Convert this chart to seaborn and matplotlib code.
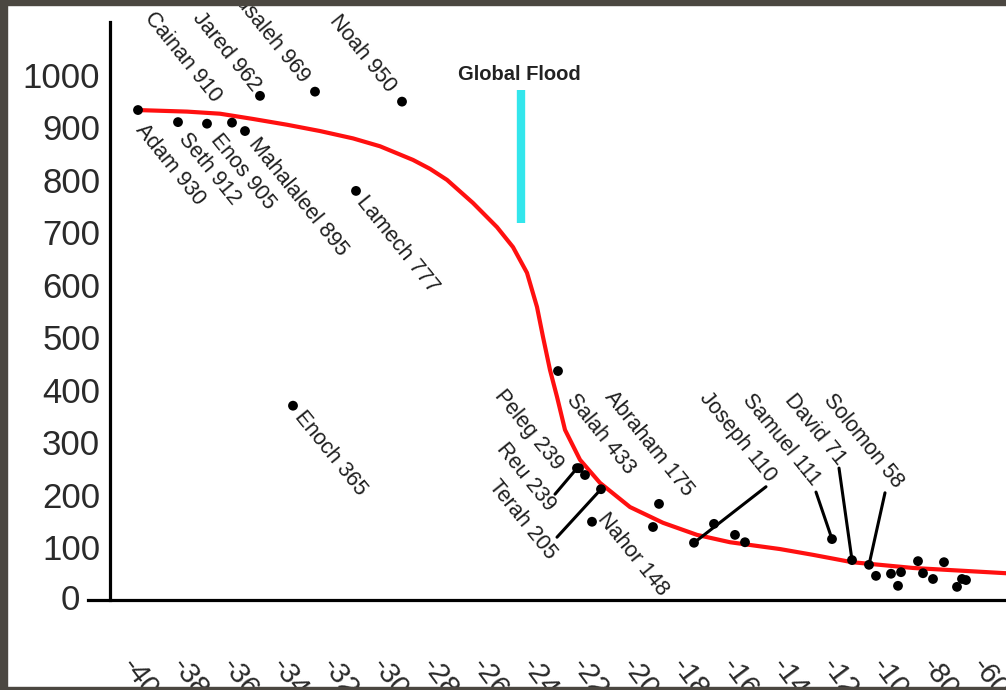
import matplotlib
matplotlib.use("Agg")  # headless rendering
import matplotlib.pyplot as plt
import seaborn as sns
import pandas as pd
from matplotlib.patches import Rectangle

sns.set_theme(style="white")
plt.rcParams["font.family"] = ["Liberation Sans", "DejaVu Sans"]

# birth year (negative = BC) and lifespan of every dot on the chart
birth_year = [-4000, -3840, -3724, -3624, -3572, -3512, -3380, -3292, -3128, -2944,
              -2320, -2244, -2236, -2212, -2148, -2184, -1916, -1940, -1776, -1696,
              -1612, -1572, -1224, -1144, -1076, -1048, -988, -948, -960, -880,
              -860, -820, -776, -704, -688, -724]
lifespan = [933, 910, 907, 909, 893, 960, 370, 968, 779, 949,
            436, 251, 251, 238, 211, 149, 183, 139, 109, 145,
            124, 110, 116, 76, 67, 46, 50, 53, 27, 74,
            51, 40, 72, 40, 38, 25]

# the red trend curve
curve_year = [-4004, -3804, -3672, -3540, -3404, -3272, -3140, -3032, -2900, -2832,
              -2764, -2660, -2564, -2500, -2444, -2404, -2380, -2352, -2324, -2292,
              -2232, -2152, -2032, -1900, -1764, -1632, -1432, -1300, -1144, -900, -528]
curve_age = [933, 930, 926, 916, 905, 893, 879, 864, 838, 821,
             800, 756, 710, 672, 623, 558, 501, 438, 387, 324,
             267, 223, 177, 147, 124, 110, 97, 86, 72, 61, 51]

flood_year = -2468
flood_low, flood_high = 718, 971

x_ticks = [-4000, -3800, -3600, -3400, -3200, -3000, -2800, -2600, -2400, -2200,
           -2000, -1800, -1600, -1400, -1200, -1000, -800, -600]
x_tick_labels = ["-4000", "-3800", "-3600", "-3400", "-3200", "-3000", "-2800", "-2600",
                 "-2400", "-2200", "-2000", "-1800", "-1600", "-1400", "-1200", "-1000",
                 "-800", "-600"]
y_ticks = [0, 100, 200, 300, 400, 500, 600, 700, 800, 900, 1000]

# names written next to the dots
names = ["Adam 930", "Seth 912", "Enos 905", "Cainan 910", "Mahalaleel 895", "Jared 962",
         "Enoch 365", "Methusaleh 969", "Lamech 777", "Noah 950", "Salah 433",
         "Peleg 239", "Reu 239", "Terah 205", "Nahor 148", "Abraham 175",
         "Joseph 110", "Samuel 111", "David 71", "Solomon 58"]
name_dot = [0, 1, 2, 3, 4, 5, 6, 7, 8, 9, 10, 11, 12, 14, 15, 16, 18, 22, 23, 24]
# label centre offsets from the dot, in pixels
name_dx = [32, 31, 36, -49, 53, -34, 37, -58, 41, -39, 43, -48, -53, -79, 41, -10, 44, -51, -37, -6]
name_dy = [-55, -47, -48, 65, -66, 44, -48, 71, -54, 48, -63, 38, -9, -31, -33, 60, 106, 99, 131, 124]

# leader lines: dot index and the free end offset in pixels
leader_dot = [11, 14, 18, 22, 23, 24]
leader_dx = [-22, -44, 72, -16, -13, 16]
leader_dy = [-26, -48, 56, 47, 92, 72]

dots = pd.DataFrame({"year": birth_year, "age": lifespan})
curve = pd.DataFrame({"year": curve_year, "age": curve_age})

fig = plt.figure(figsize=(10.06, 6.9), dpi=100)
fig.patch.set_facecolor("white")
ax = fig.add_axes([88 / 1006, 90 / 690, 918 / 1006, 595 / 690])
ax.set_facecolor("white")

sns.lineplot(data=curve, x="year", y="age", color="#ff1010", lw=3, ax=ax,
             sort=False, zorder=2)
sns.scatterplot(data=dots, x="year", y="age", color="black", s=50,
                edgecolor="none", ax=ax, zorder=3)

# global flood marker
ax.vlines(flood_year, flood_low, flood_high, color="#33e6ec", lw=6, zorder=1)
ax.text(flood_year - 8, 1001, "Global Flood", ha="center", va="center",
        fontsize=14.5, fontweight="bold", color="#222222")

for i, name in enumerate(names):
    d = name_dot[i]
    ax.annotate(name, xy=(birth_year[d], lifespan[d]),
                xytext=(name_dx[i], name_dy[i]), textcoords="offset pixels",
                rotation=-51, rotation_mode="anchor", ha="center", va="center",
                fontsize=15.5, color="#1e1e1e", annotation_clip=False, clip_on=True)

for i, d in enumerate(leader_dot):
    ax.annotate("", xy=(birth_year[d], lifespan[d]),
                xytext=(leader_dx[i], leader_dy[i]), textcoords="offset pixels",
                arrowprops=dict(arrowstyle="-", lw=2.2, color="black",
                                shrinkA=0, shrinkB=0))

ax.set_xlim(-4200, -528)
ax.set_ylim(0, 1133)
ax.set_xlabel("")
ax.set_ylabel("")

for side in ["top", "right"]:
    ax.spines[side].set_visible(False)
ax.spines["left"].set_position(("data", -4112))
ax.spines["left"].set_bounds(0, 1100)
for side in ["left", "bottom"]:
    ax.spines[side].set_color("black")
    ax.spines[side].set_linewidth(2.3)

ax.set_yticks(y_ticks)
ax.set_yticklabels([""] + [str(v) for v in y_ticks[1:]], fontsize=25, color="#2a2a2a")
ax.tick_params(axis="y", direction="out", length=6, width=1.5, pad=1, colors="#2a2a2a")
# the zero label sits left of where the x axis line begins
ax.annotate("0", xy=(-4200, 0), xytext=(-8, 0), textcoords="offset pixels",
            ha="right", va="center", fontsize=25, color="#2a2a2a", annotation_clip=False)
ax.set_xticks(x_ticks)
ax.set_xticklabels(x_tick_labels, rotation=-53, ha="left", va="top",
                   rotation_mode="anchor", fontsize=21, color="#2a2a2a")
ax.tick_params(axis="x", length=0, pad=38)
ax.grid(False)

# dark frame around the scanned picture
frame = "#4b4741"
fig.patches.append(Rectangle((0, 1 - 5 / 690), 1, 5 / 690, transform=fig.transFigure,
                             color=frame, zorder=10))
fig.patches.append(Rectangle((0, 0), 7 / 1006, 1, transform=fig.transFigure,
                             color=frame, zorder=10))
fig.patches.append(Rectangle((0, 0), 1, 3 / 690, transform=fig.transFigure,
                             color=frame, zorder=10))

fig.savefig("out.png", dpi=100)
plt.close(fig)
